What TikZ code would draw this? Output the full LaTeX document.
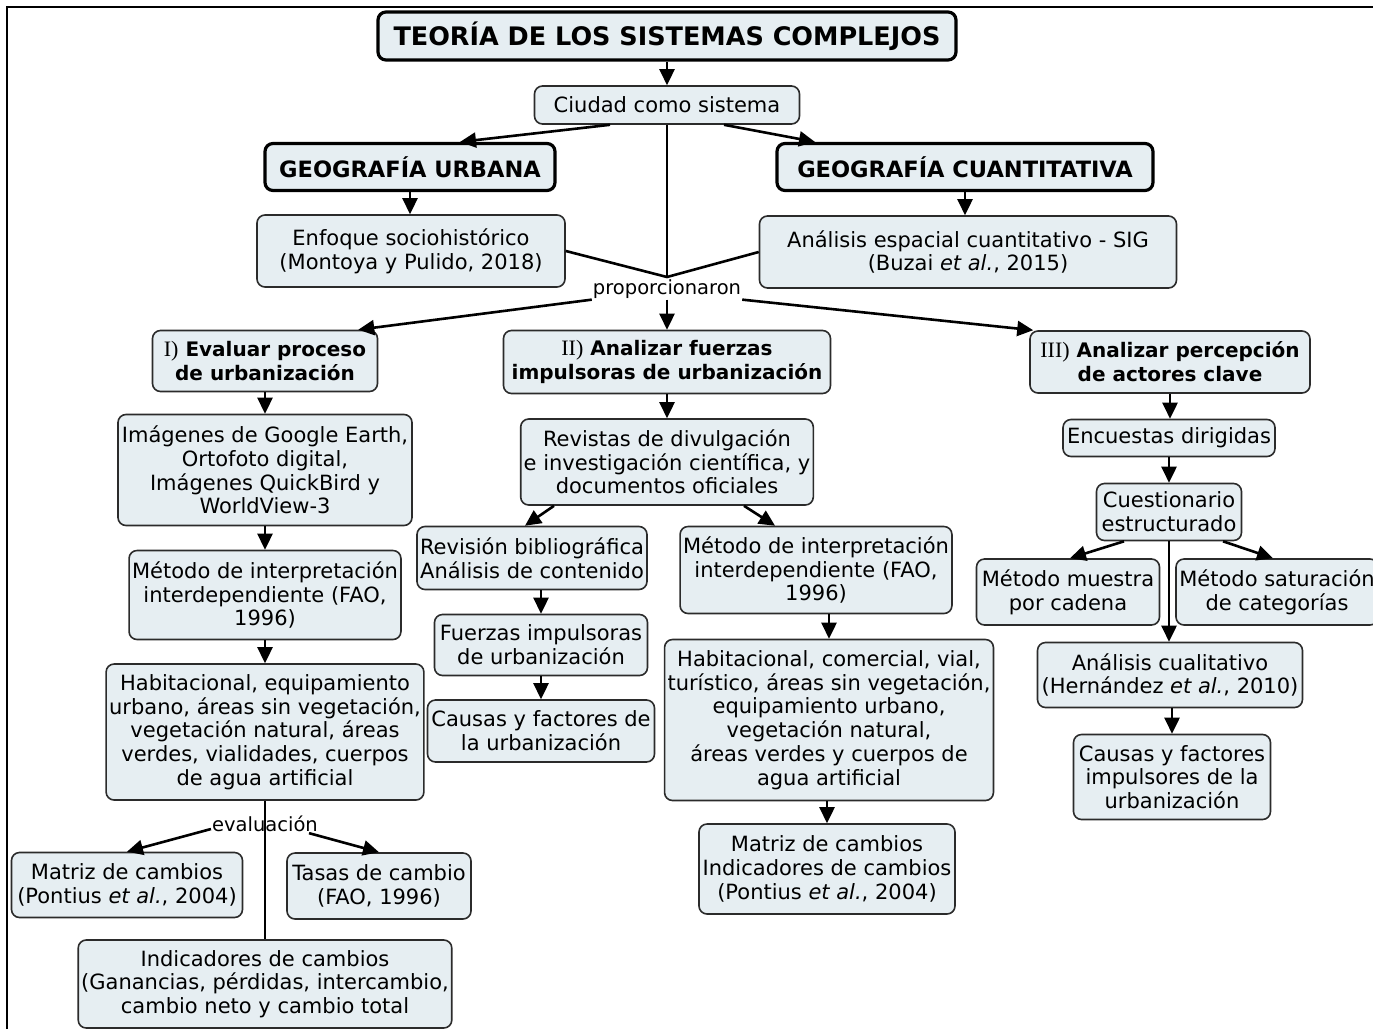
\documentclass[tikz,border=0pt]{standalone}
\usepackage{fontspec}
\setmainfont{DejaVu Sans}
\newfontfamily\numfont{Liberation Serif}
\usetikzlibrary{arrows.meta}
\definecolor{boxfill}{HTML}{E6EEF2}
\definecolor{boxline}{HTML}{2B2B2B}
\newcommand\objnum[1]{{\numfont\mdseries\fontsize{22}{24}\selectfont #1)}}
\tikzset{
    x=1pt, y=-1pt,
    wh/.style 2 args={minimum width=#1pt, minimum height=#2pt},
    box/.style={draw=boxline, line width=1.6pt, fill=boxfill, rounded corners=8pt,
        align=center, inner xsep=3pt, inner ysep=0pt, font=\fontsize{21}{23.7}\selectfont},
    headbox/.style={box, draw=black, line width=3.2pt, font=\bfseries\fontsize{22.5}{24}\selectfont},
    goalbox/.style={box, font=\bfseries\fontsize{20}{24}\selectfont},
    lbl/.style={inner sep=1pt, font=\fontsize{19.5}{21}\selectfont},
    arr/.style={-{Triangle[length=16pt,width=15pt]}, line width=2.6pt},
    lnk/.style={line width=2.6pt}
}
\begin{document}
\begin{tikzpicture}
\useasboundingbox (0,0) rectangle (1373,1029);
\draw[line width=2.6pt] (7,1029) -- (7,7) -- (1373,7);

% top
\node[headbox, wh={578}{48}, font=\bfseries\fontsize{25.5}{27}\selectfont] (teoria) at (667,36) {TEORÍA DE LOS SISTEMAS COMPLEJOS};
\node[box, wh={265}{38}] (ciudad) at (667,105) {Ciudad como sistema};
\node[headbox, wh={290}{47}] (geourb) at (410,167) {GEOGRAFÍA URBANA};
\node[headbox, wh={376}{47}] (geocuan) at (965,167) {GEOGRAFÍA CUANTITATIVA};
\node[box, wh={308}{72}] (enfoque) at (411,251) {Enfoque sociohistórico\\(Montoya y Pulido, 2018)};
\node[box, wh={417}{72}] (espacial) at (968,252) {Análisis espacial cuantitativo - SIG\\(Buzai \textit{et al.}, 2015)};
\node[lbl] (proporc) at (667,289) {proporcionaron};
\coordinate (cruce) at (667,277);

% objetivos
\node[goalbox, wh={225}{61}] (obj1) at (265,361) {\objnum{I} Evaluar proceso\\de urbanización};
\node[goalbox, wh={327}{63}] (obj2) at (667,362) {\objnum{II} Analizar fuerzas\\impulsoras de urbanización};
\node[goalbox, wh={280}{62}] (obj3) at (1170,362) {\objnum{III} Analizar percepción\\de actores clave};

% columna I
\node[box, wh={294}{111}] (imagenes) at (265,470) {Imágenes de Google Earth,\\Ortofoto digital,\\Imágenes QuickBird y\\WorldView-3};
\node[box, wh={271}{89}] (metodoA) at (265,595) {Método de interpretación\\interdependiente (FAO,\\1996)};
\node[box, wh={314}{136}] (coberturaA) at (265,732) {Habitacional, equipamiento\\urbano, áreas sin vegetación,\\vegetación natural, áreas\\verdes, vialidades, cuerpos\\de agua artificial};
\node[lbl] (evaluacion) at (265,824) {evaluación};
\node[box, wh={231}{65}] (matrizA) at (127,885) {Matriz de cambios\\(Pontius \textit{et al.}, 2004)};
\node[box, wh={184}{66}] (tasas) at (379,886) {Tasas de cambio\\(FAO, 1996)};
\node[box, wh={370}{88}] (indicadores) at (265,984) {Indicadores de cambios\\(Ganancias, pérdidas, intercambio,\\cambio neto y cambio total};

% columna II
\node[box, wh={291}{86}] (revistas) at (667,462) {Revistas de divulgación\\e investigación científica, y\\documentos oficiales};
\node[box, wh={230}{63}] (revision) at (532,558) {Revisión bibliográfica\\Análisis de contenido};
\node[box, wh={269}{87}] (metodoB) at (816,570) {Método de interpretación\\interdependiente (FAO,\\1996)};
\node[box, wh={213}{61}] (fuerzas) at (541,645) {Fuerzas impulsoras\\de urbanización};
\node[box, wh={227}{62}] (causasB) at (541,731) {Causas y factores de\\la urbanización};
\node[box, wh={326}{161}] (coberturaB) at (829,720) {Habitacional, comercial, vial,\\turístico, áreas sin vegetación,\\equipamiento urbano,\\vegetación natural,\\áreas verdes y cuerpos de\\agua artificial};
\node[box, wh={256}{90}] (matrizB) at (827,869) {Matriz de cambios\\Indicadores de cambios\\(Pontius \textit{et al.}, 2004)};

% columna III
\node[box, wh={212}{37}] (encuestas) at (1169,438) {Encuestas dirigidas};
\node[box, wh={145}{57}] (cuestionario) at (1169,512) {Cuestionario\\estructurado};
\node[box, wh={183}{66}] (muestra) at (1068,592) {Método muestra\\por cadena};
\node[box, wh={202}{66}] (saturacion) at (1277,592) {Método saturación\\de categorías};
\node[box, wh={265}{65}] (cualitativo) at (1170,675) {Análisis cualitativo\\(Hernández \textit{et al.}, 2010)};
\node[box, wh={197}{85}] (causasC) at (1172,777) {Causas y factores\\impulsores de la\\urbanización};

% conectores
\draw[arr] (teoria.south) -- (ciudad.north);
\draw[arr] ([xshift=-57]ciudad.south) -- ([xshift=50]geourb.north);
\draw[arr] ([xshift=57]ciudad.south) -- ([xshift=-150]geocuan.north);
\draw[arr] (geourb.south) -- (geourb.south |- enfoque.north);
\draw[arr] (geocuan.south) -- (geocuan.south |- espacial.north);
\draw[lnk] (enfoque.east) -- (cruce) -- (espacial.west);
\draw[lnk] (ciudad.south) -- (cruce);
\draw[arr] (proporc.south west) -- ([xshift=-20]obj1.north east);
\draw[arr] (proporc.south) -- (obj2.north);
\draw[arr] (proporc.south east) -- ([xshift=4]obj3.north west);

\draw[arr] (obj1.south) -- (imagenes.north);
\draw[arr] (imagenes.south) -- (metodoA.north);
\draw[arr] (metodoA.south) -- (coberturaA.north);
\draw[lnk] (coberturaA.south) -- (indicadores.north);
\draw[arr] ([yshift=-5]evaluacion.west) -- (matrizA.north);
\draw[arr] ([xshift=-10]evaluacion.south east) -- (tasas.north);

\draw[arr] (obj2.south) -- (revistas.north);
\draw[arr] ([xshift=-113]revistas.south) -- ([xshift=-7]revision.north);
\draw[arr] ([xshift=77]revistas.south) -- ([xshift=-41]metodoB.north);
\draw[arr] ([xshift=9]revision.south) -- (fuerzas.north);
\draw[arr] (fuerzas.south) -- (causasB.north);
\draw[arr] ([xshift=13]metodoB.south) -- (coberturaB.north);
\draw[arr] ([xshift=-2]coberturaB.south) -- (matrizB.north);

\draw[arr] (obj3.south) -- (obj3.south |- encuestas.north);
\draw[arr] (encuestas.south) -- (cuestionario.north);
\draw[arr] ([xshift=-45]cuestionario.south) -- ([xshift=2]muestra.north);
\draw[arr] ([xshift=54]cuestionario.south) -- ([xshift=-4]saturacion.north);
\draw[arr] (cuestionario.south) -- (cuestionario.south |- cualitativo.north);
\draw[arr] ([xshift=2]cualitativo.south) -- (causasC.north);
\end{tikzpicture}
\end{document}
